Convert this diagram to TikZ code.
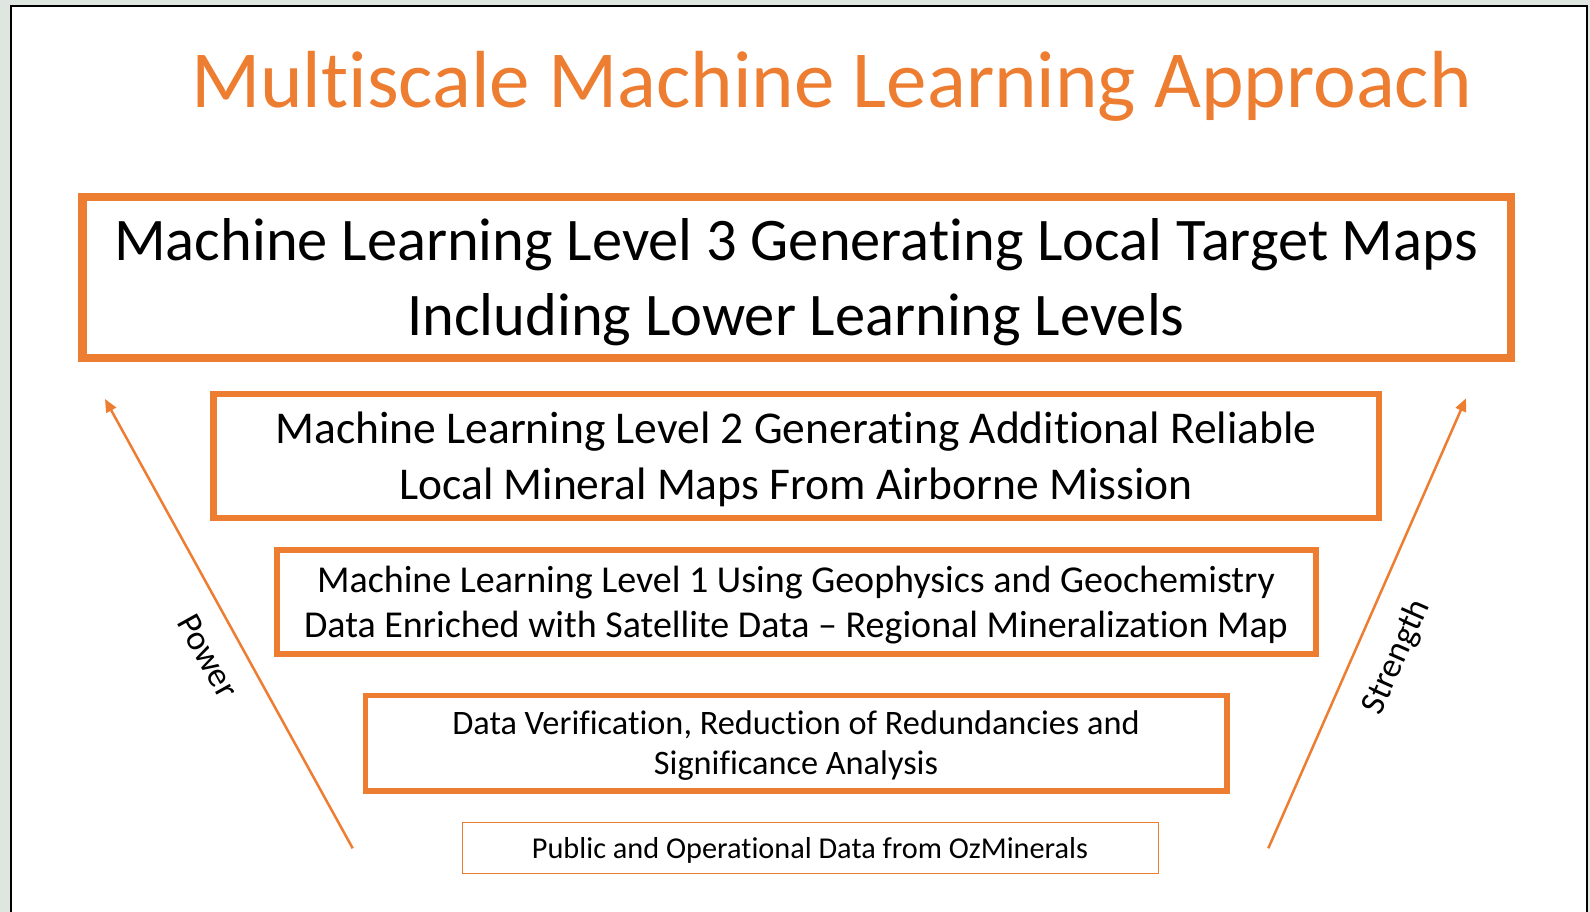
\documentclass[tikz,border=0pt]{standalone}
\usepackage{fontspec}
\setmainfont{Carlito}[Ligatures={TeX,NoCommon}]
\usetikzlibrary{arrows.meta}
\definecolor{accent}{HTML}{ED7D31}
\definecolor{pagebg}{HTML}{DFE5DF}
\tikzset{
  level/.style={draw=accent, fill=none, inner sep=0pt},
  txt/.style={anchor=base, inner sep=0pt, text=black},
  arr/.style={draw=accent, line width=2.5pt, -{Triangle[length=13pt,width=11pt]}},
  sidelabel/.style={inner sep=0pt, text=black, font=\fontsize{35}{42}\selectfont}
}
\begin{document}
\begin{tikzpicture}[x=1pt,y=-1pt]
\useasboundingbox (0,0) rectangle (1590,912);
\clip (0,0) rectangle (1590,912);
\fill[pagebg] (0,0) rectangle (1590,912);
\draw[black, line width=2.5pt, fill=white] (11,940) -- (11,6) -- (1587,6) -- (1587,940);
% title
\node[txt, text=accent, font=\fontsize{81}{97}\selectfont] (title) at (831.5,108) {Multiscale Machine Learning Approach};
% boxes
\node[level, line width=8.5pt, minimum width=1428.5pt, minimum height=161pt] (b3) at (796.75,277.5) {};
\node[level, line width=6.5pt, minimum width=1165.5pt, minimum height=124pt] (b2) at (796.25,456) {};
\node[level, line width=6pt, minimum width=1039.3pt, minimum height=104.3pt] (b1) at (796.35,601.85) {};
\node[level, line width=5.5pt, minimum width=861.5pt, minimum height=95.5pt] (b0) at (796.25,743.25) {};
\node[level, line width=1.5pt, minimum width=696pt, minimum height=51pt] (bb) at (810.3,847.8) {};
% texts
\node[txt, font=\fontsize{60.5}{72}\selectfont] (t3a) at (796,260) {Machine Learning Level 3 Generating Local Target Maps};
\node[txt, font=\fontsize{60.5}{72}\selectfont] (t3b) at (796,335) {Including Lower Learning Levels};
\node[txt, font=\fontsize{45.5}{55}\selectfont] (t2a) at (796,443) {Machine Learning Level 2 Generating Additional Reliable};
\node[txt, font=\fontsize{45.5}{55}\selectfont] (t2b) at (796,499) {Local Mineral Maps From Airborne Mission};
\node[txt, font=\fontsize{38}{46}\selectfont] (t1a) at (796,592) {Machine Learning Level 1 Using Geophysics and Geochemistry};
\node[txt, font=\fontsize{38}{46}\selectfont] (t1b) at (796,637) {Data Enriched with Satellite Data – Regional Mineralization Map};
\node[txt, font=\fontsize{34.3}{41}\selectfont] (t0a) at (796,734) {Data Verification, Reduction of Redundancies and};
\node[txt, font=\fontsize{34.3}{41}\selectfont] (t0b) at (796,774) {Significance Analysis};
\node[txt, font=\fontsize{30.3}{36}\selectfont] (tb) at (810,858) {Public and Operational Data from OzMinerals};
% arrows
\coordinate (lb) at (352.7,848.3);
\coordinate (lt) at (105,399);
\coordinate (rb) at (1268.3,848.3);
\coordinate (rt) at (1466,398.3);
\draw[arr] (lb) -- (lt);
\draw[arr] (rb) -- (rt);
\node[sidelabel, rotate=-61] (power) at (208,656) {Power};
\node[sidelabel, rotate=66] (strength) at (1397,657) {Strength};
\end{tikzpicture}
\end{document}
